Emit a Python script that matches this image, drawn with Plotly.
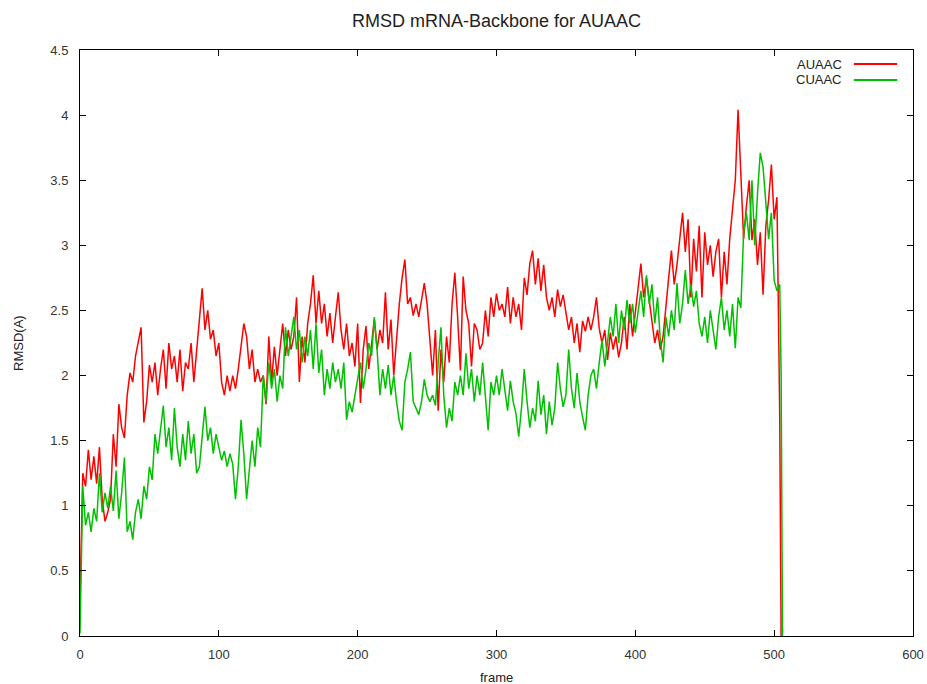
import numpy as np
import plotly.graph_objects as go

frame_step = 2

auaac_rmsd = [
    0.30, 1.25, 1.15, 1.43, 1.20, 1.38, 1.17, 1.45, 1.05, 0.88,
    0.95, 1.05, 1.55, 1.30, 1.78, 1.60, 1.52, 1.85, 2.02, 1.95,
    2.15, 2.25, 2.37, 1.64, 1.80, 2.08, 1.95, 2.10, 1.85, 2.05,
    2.20, 1.90, 2.25, 2.05, 2.15, 1.95, 2.20, 1.88, 2.10, 2.05,
    2.25, 1.95, 2.20, 2.45, 2.67, 2.35, 2.50, 2.28, 2.35, 2.15,
    2.25, 1.95, 1.85, 2.00, 1.88, 2.00, 1.90, 2.05, 2.25, 2.40,
    2.30, 2.05, 2.20, 1.95, 2.05, 1.95, 2.00, 1.78, 2.30, 1.95,
    2.22, 2.00, 2.20, 2.40, 2.15, 2.35, 2.20, 2.30, 2.60, 1.95,
    2.30, 2.10, 2.40, 2.55, 2.77, 2.40, 2.65, 2.40, 2.55, 2.30,
    2.48, 2.25, 2.45, 2.64, 2.35, 2.20, 2.40, 2.15, 2.25, 2.07,
    2.40, 1.79, 2.20, 2.38, 2.05, 2.25, 2.43, 2.20, 2.35, 2.25,
    2.64, 2.20, 2.43, 2.00, 2.30, 2.55, 2.75, 2.89, 2.55, 2.60,
    2.46, 2.55, 2.45, 2.60, 2.71, 2.55, 2.30, 2.00, 2.35, 1.73,
    2.20, 1.95, 2.30, 2.10, 2.55, 2.79, 2.45, 2.04, 2.76, 2.50,
    2.40, 2.07, 2.40, 2.35, 2.20, 2.25, 2.50, 2.30, 2.60, 2.45,
    2.63, 2.50, 2.55, 2.45, 2.68, 2.40, 2.60, 2.45, 2.55, 2.35,
    2.75, 2.62, 2.86, 2.96, 2.70, 2.90, 2.65, 2.85, 2.60, 2.50,
    2.60, 2.45, 2.66, 2.53, 2.62, 2.50, 2.35, 2.45, 2.25, 2.40,
    2.18, 2.42, 2.34, 2.45, 2.35, 2.45, 2.60, 2.36, 2.25, 2.35,
    2.12, 2.33, 2.20, 2.30, 2.14, 2.25, 2.45, 2.20, 2.55, 2.30,
    2.50, 2.70, 2.86, 2.60, 2.75, 2.58, 2.40, 2.25, 2.35, 2.20,
    2.30, 2.50, 2.75, 2.96, 2.70, 2.85, 3.05, 3.25, 2.95, 3.20,
    2.60, 3.05, 2.80, 3.15, 2.60, 3.10, 2.85, 3.00, 2.76, 2.95,
    3.05, 2.60, 2.95, 2.70, 3.05, 3.30, 3.50, 4.04, 3.60, 3.05,
    3.30, 3.50, 3.04, 3.20, 2.85, 3.10, 2.62, 3.15, 3.35, 3.62,
    3.20, 3.37, 1.70,
]
auaac_tail_frames = [505]
auaac_tail_rmsd = [0.0]

cuaac_rmsd = [
    0.02, 1.15, 0.85, 0.95, 0.80, 0.98, 0.88, 1.25, 0.95, 1.10,
    0.98, 1.15, 0.96, 1.27, 0.90, 1.10, 1.37, 0.80, 0.88, 0.74,
    0.95, 1.05, 0.90, 1.15, 1.05, 1.30, 1.20, 1.55, 1.40, 1.60,
    1.77, 1.45, 1.60, 1.35, 1.75, 1.45, 1.30, 1.55, 1.35, 1.65,
    1.40, 1.55, 1.25, 1.30, 1.55, 1.76, 1.50, 1.60, 1.40, 1.55,
    1.45, 1.35, 1.42, 1.30, 1.40, 1.32, 1.05, 1.30, 1.66, 1.40,
    1.05, 1.25, 1.50, 1.30, 1.60, 1.45, 2.00, 1.80, 2.10, 1.90,
    2.05, 1.80, 2.00, 1.90, 2.37, 2.15, 2.30, 2.45, 2.20, 2.35,
    2.10, 2.30, 2.15, 2.35, 2.05, 2.40, 2.02, 2.20, 1.85, 2.05,
    1.90, 2.10, 1.95, 2.05, 1.90, 2.10, 1.66, 1.80, 1.72, 1.85,
    1.95, 2.10, 1.90, 2.05, 2.25, 2.15, 2.45, 2.20, 1.85, 2.05,
    1.90, 2.08, 1.85, 2.00, 1.80, 1.65, 1.58, 1.95, 2.05, 2.18,
    1.80, 1.75, 1.70, 1.80, 1.97, 1.85, 1.80, 1.85, 1.77, 2.10,
    2.37, 1.85, 1.60, 1.75, 1.65, 1.95, 1.85, 2.00, 1.85, 2.17,
    1.90, 2.05, 1.80, 2.00, 1.85, 2.10, 1.82, 1.58, 1.95, 1.85,
    2.00, 1.85, 2.05, 1.90, 1.73, 1.96, 1.80, 1.71, 1.53, 1.75,
    2.05, 1.80, 1.60, 1.75, 1.65, 1.96, 1.70, 1.85, 1.55, 1.80,
    1.62, 1.75, 2.10, 1.90, 1.76, 1.85, 2.20, 1.90, 1.75, 2.02,
    1.80, 1.68, 1.58, 1.85, 2.00, 2.05, 1.90, 2.10, 2.27, 2.07,
    2.25, 2.45, 2.30, 2.55, 2.25, 2.50, 2.35, 2.58, 2.40, 2.55,
    2.33, 2.50, 2.65, 2.45, 2.77, 2.55, 2.70, 2.40, 2.60, 2.27,
    2.10, 2.45, 2.30, 2.50, 2.35, 2.71, 2.40, 2.55, 2.81, 2.55,
    2.70, 2.53, 2.65, 2.40, 2.30, 2.45, 2.25, 2.50, 2.35, 2.20,
    2.45, 2.60, 2.35, 2.50, 2.30, 2.55, 2.21, 2.60, 2.52, 3.10,
    3.25, 3.04, 3.50, 3.00, 3.40, 3.71, 3.60, 3.30, 3.05, 3.25,
    2.73, 2.65, 2.70,
]
cuaac_tail_frames = [505, 505.5, 506]
cuaac_tail_rmsd = [2.02, 0.68, 0.0]

series_names = ["AUAAC", "CUAAC"]
series_colors = ["#ff0000", "#00c000"]

x_ticks = [0, 100, 200, 300, 400, 500, 600]
y_ticks = [0, 0.5, 1, 1.5, 2, 2.5, 3, 3.5, 4, 4.5]

# ---- build ----
def frames_for(vals, tail_frames):
    return list(np.arange(len(vals)) * frame_step) + list(tail_frames)

auaac_x = frames_for(auaac_rmsd, auaac_tail_frames)
auaac_y = list(auaac_rmsd) + list(auaac_tail_rmsd)
cuaac_x = frames_for(cuaac_rmsd, cuaac_tail_frames)
cuaac_y = list(cuaac_rmsd) + list(cuaac_tail_rmsd)

FONT = "Liberation Sans, Arial, sans-serif"

fig = go.Figure()
fig.add_trace(go.Scatter(x=auaac_x, y=auaac_y, mode="lines", name=series_names[0],
                         line=dict(color=series_colors[0], width=1.5), showlegend=False))
fig.add_trace(go.Scatter(x=cuaac_x, y=cuaac_y, mode="lines", name=series_names[1],
                         line=dict(color=series_colors[1], width=1.5), showlegend=False))

# gnuplot-style legend: text then line sample, top-right inside
legend_y = [0.976, 0.949]
for name, color, ly in zip(series_names, series_colors, legend_y):
    fig.add_annotation(xref="paper", yref="paper", x=0.917, y=ly, text=name,
                       showarrow=False, xanchor="right", yanchor="middle",
                       font=dict(family=FONT, size=13, color="#222"))
    fig.add_shape(type="line", xref="paper", yref="paper", x0=0.929, x1=0.981,
                  y0=ly, y1=ly, line=dict(color=color, width=2))

# axis titles
fig.add_annotation(xref="paper", yref="paper", x=0.5, y=-0.07, text="frame",
                   showarrow=False, xanchor="center", yanchor="middle",
                   font=dict(family=FONT, size=13, color="#222"))
fig.add_annotation(xref="paper", yref="paper", x=-0.0745, y=0.5, text="RMSD(A)",
                   showarrow=False, xanchor="center", yanchor="middle", textangle=-90,
                   font=dict(family=FONT, size=13, color="#222"))

axis_common = dict(showline=True, linecolor="#000", linewidth=1, mirror="ticks",
                   ticks="inside", ticklen=6, tickcolor="#000", showgrid=False,
                   zeroline=False, automargin=False,
                   tickfont=dict(family=FONT, size=13, color="#333"))

fig.update_layout(
    width=927, height=684,
    margin=dict(l=80, r=14, t=50, b=48),
    paper_bgcolor="white", plot_bgcolor="white",
    title=dict(text="RMSD mRNA-Backbone for AUAAC", x=0.5, xanchor="center", xref="paper",
               y=1 - 21 / 684, yanchor="middle", yref="container",
               font=dict(family=FONT, size=18, color="#222")),
    xaxis=dict(range=[0, 600], tickvals=x_ticks, ticklabelstandoff=6, **axis_common),
    yaxis=dict(range=[0, 4.5], tickvals=y_ticks, ticklabelstandoff=8, **axis_common),
)

fig.write_html("out.html")
